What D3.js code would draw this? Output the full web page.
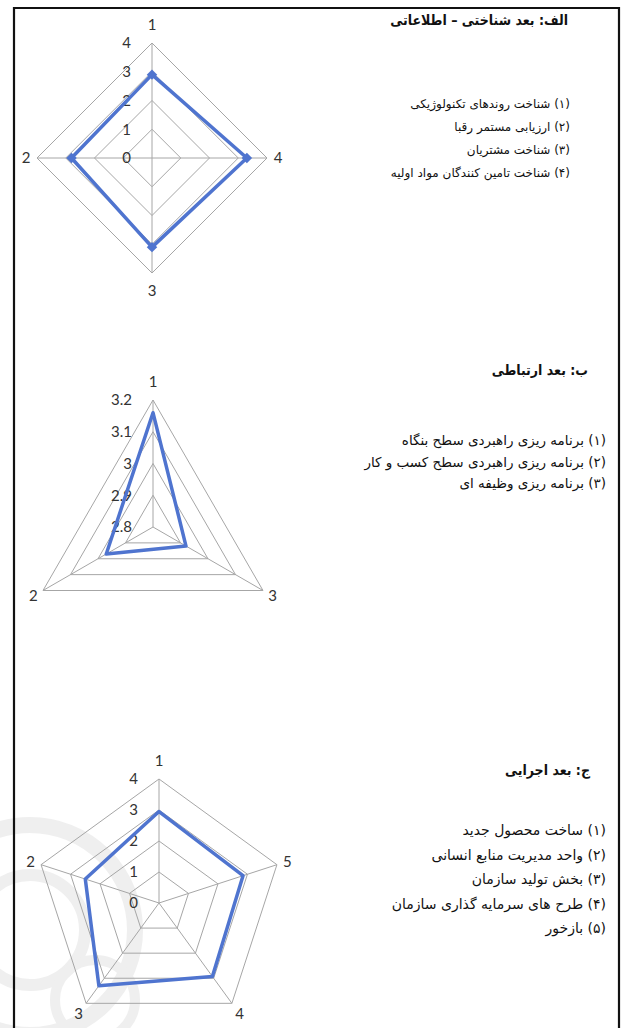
<!DOCTYPE html>
<html>
<head>
<meta charset="utf-8">
<script src="https://cdn.jsdelivr.net/npm/d3@7"></script>
<style>
  body { margin: 0; background: #fff; }
  svg { display: block; }
</style>
</head>
<body>
<script>
// chart a: cognitive - information dimension
const axes1 = ['1', '2', '3', '4'];
const values1 = [2.9, 2.8, 3.1, 3.3];
const ticks1 = [0, 1, 2, 3, 4];
const title1 = 'الف: بعد شناختی – اطلاعاتی';
const items1 = [
  '(۱) شناخت روندهای تکنولوژیکی',
  '(۲) ارزیابی مستمر رقبا',
  '(۳) شناخت مشتریان',
  '(۴) شناخت تامین کنندگان مواد اولیه',
];

// chart b: communication dimension
const axes2 = ['1', '2', '3'];
const values2 = [3.16, 2.97, 2.92];
const ticks2 = [2.8, 2.9, 3, 3.1, 3.2];
const title2 = 'ب: بعد ارتباطی';
const items2 = [
  '(۱) برنامه ریزی راهبردی سطح بنگاه',
  '(۲) برنامه ریزی راهبردی سطح کسب و کار',
  '(۳) برنامه ریزی وظیفه ای',
];

// chart c: executive dimension
const axes3 = ['1', '2', '3', '4', '5'];
const values3 = [2.95, 2.5, 3.3, 2.93, 2.85];
const ticks3 = [0, 1, 2, 3, 4];
const title3 = 'ج: بعد اجرایی';
const items3 = [
  '(۱) ساخت محصول جدید',
  '(۲) واحد مدیریت منابع انسانی',
  '(۳) بخش تولید سازمان',
  '(۴) طرح های سرمایه گذاری سازمان',
  '(۵) بازخور',
];

const W = 621;
const H = 1028;
const blue = '#4f74cf';
const grid = '#a6a6a6';
const persian = "'DejaVu Sans', sans-serif";
const persianBold = "'DejaVu Sans Condensed', 'DejaVu Sans', sans-serif";

const svg = d3.select('body').append('svg').attr('width', W).attr('height', H);

// faint scanned watermark, bottom left
const wm = svg.append('g').attr('fill', 'none').attr('stroke', '#dcdcdc').attr('opacity', 0.45);
[[30, 930, 105, 16], [30, 930, 55, 12], [95, 1000, 40, 10]].forEach(([x, y, rr, w]) => {
  wm.append('circle').attr('cx', x).attr('cy', y).attr('r', rr).attr('stroke-width', w);
});

// page frame
svg.append('path')
  .attr('d', `M14,${H} L14,8 L619,8 L619,${H}`)
  .attr('fill', 'none')
  .attr('stroke', '#111')
  .attr('stroke-width', 2.2);

function radar({ cx, cy, radius, axes, values, ticks, marker }) {
  const n = axes.length;
  const r = d3.scaleLinear().domain(d3.extent(ticks)).range([0, radius]);
  // counter-clockwise from the top, as in the original
  const angle = (i) => (-i * 2 * Math.PI) / n;
  const g = svg.append('g').attr('transform', `translate(${cx},${cy})`);

  const ring = d3.lineRadial()
    .angle((d, i) => angle(i))
    .curve(d3.curveLinearClosed);

  // rings
  ticks.filter((t) => r(t) > 0).forEach((t) => {
    g.append('path')
      .attr('d', ring.radius(r(t))(axes))
      .attr('fill', 'none')
      .attr('stroke', grid)
      .attr('stroke-width', 1);
  });

  // spokes
  axes.forEach((a, i) => {
    const p = d3.pointRadial(angle(i), radius);
    g.append('line')
      .attr('x1', 0).attr('y1', 0)
      .attr('x2', p[0]).attr('y2', p[1])
      .attr('stroke', grid)
      .attr('stroke-width', 1);
  });

  // tick labels left of the vertical spoke
  g.selectAll('.tick')
    .data(ticks)
    .join('text')
    .attr('x', -21)
    .attr('y', (t) => -r(t))
    .attr('dy', '0.35em')
    .attr('text-anchor', 'end')
    .attr('font-family', 'Lato, sans-serif')
    .attr('font-size', 15)
    .attr('fill', '#333')
    .text((t) => String(t));

  // category labels
  axes.forEach((a, i) => {
    const ang = angle(i);
    const d = 11 + 7 * Math.pow(Math.abs(Math.cos(ang)), 6);
    const p = d3.pointRadial(ang, radius + d);
    g.append('text')
      .attr('x', p[0])
      .attr('y', p[1])
      .attr('dy', '0.35em')
      .attr('text-anchor', 'middle')
      .attr('font-family', 'Lato, sans-serif')
      .attr('font-size', 15)
      .attr('fill', '#333')
      .text(a);
  });

  // series
  const line = d3.lineRadial()
    .angle((d, i) => angle(i))
    .radius((d) => r(d))
    .curve(d3.curveLinearClosed);

  g.append('path')
    .attr('d', line(values))
    .attr('fill', 'none')
    .attr('stroke', blue)
    .attr('stroke-width', 3.5)
    .attr('stroke-linejoin', 'round');

  if (marker) {
    g.selectAll('.mark')
      .data(values)
      .join('path')
      .attr('d', d3.symbol(d3.symbolDiamond2, 70))
      .attr('transform', (d, i) => {
        const p = d3.pointRadial(angle(i), r(d));
        return `translate(${p[0]},${p[1]})`;
      })
      .attr('fill', blue);
  }
}

function legend({ x, y, title, titleY, items, step, size }) {
  svg.append('text')
    .attr('x', x.title)
    .attr('y', titleY)
    .attr('direction', 'rtl')
    .attr('text-anchor', 'start')
    .attr('font-family', persianBold)
    .attr('font-weight', 'bold')
    .attr('font-size', 14)
    .attr('fill', '#111')
    .text(title);

  svg.selectAll(null)
    .data(items)
    .join('text')
    .attr('x', x.items)
    .attr('y', (d, i) => y + i * step)
    .attr('direction', 'rtl')
    .attr('text-anchor', 'start')
    .attr('font-family', persian)
    .attr('font-size', size)
    .attr('fill', '#111')
    .text((d) => d);
}

radar({ cx: 152, cy: 158, radius: 115, axes: axes1, values: values1, ticks: ticks1, marker: true });
radar({ cx: 153, cy: 527, radius: 127, axes: axes2, values: values2, ticks: ticks2, marker: false });
radar({ cx: 159, cy: 903, radius: 124, axes: axes3, values: values3, ticks: ticks3, marker: false });

legend({ x: { title: 568, items: 570 }, titleY: 25, title: title1, items: items1, y: 108, step: 23, size: 12 });
legend({ x: { title: 588, items: 606 }, titleY: 375, title: title2, items: items2, y: 445, step: 21.5, size: 13.5 });
legend({ x: { title: 590, items: 606 }, titleY: 775, title: title3, items: items3, y: 835, step: 24.5, size: 14 });
</script>
</body>
</html>
